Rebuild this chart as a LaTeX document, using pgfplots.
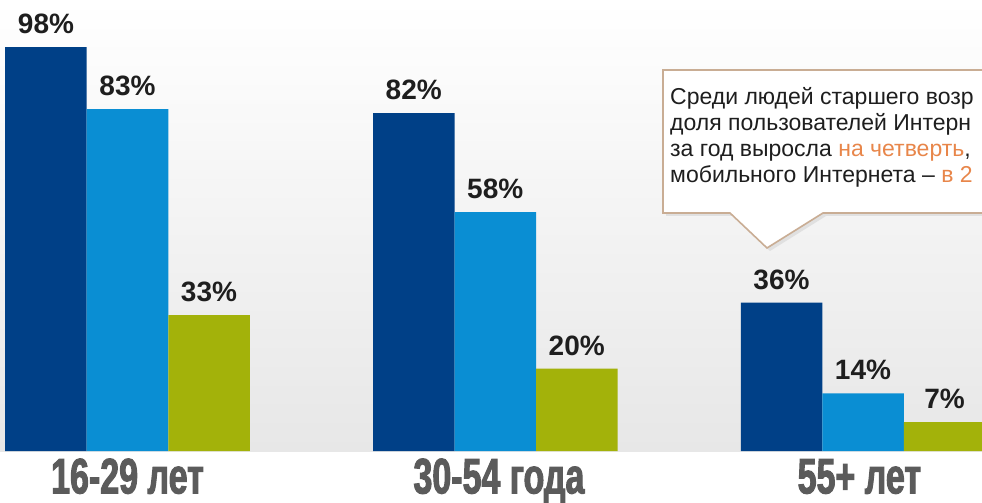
\documentclass[border=0pt]{standalone}
\usepackage{pgfplots}
\pgfplotsset{compat=1.18}
\usepackage{fontspec}
\setmainfont{Liberation Sans}
\newfontfamily\condfont[FakeStretch=0.68,BoldFeatures={FakeBold=2}]{Liberation Sans}

\definecolor{darkblue}{HTML}{004087}
\definecolor{lightblue}{HTML}{0A8ED3}
\definecolor{limegreen}{HTML}{A3B20A}
\definecolor{bggray}{HTML}{E7E7E7}
\definecolor{labelgray}{HTML}{1E1E1E}
\definecolor{catgray}{HTML}{5B5B5B}
\definecolor{boxline}{HTML}{C9AD94}
\definecolor{accent}{HTML}{E8864A}

\begin{document}
\begin{tikzpicture}
\useasboundingbox (0,0) rectangle (982pt,503pt);
\clip (0,0) rectangle (982pt,503pt);
\begin{axis}[
    scale only axis,
    width=982pt, height=503pt,
    xmin=-0.3467, xmax=2.3236,
    ymin=-12.62, ymax=109.47,
    hide axis,
    ybar=0pt,
    bar width=81.5pt,
    /pgf/number format/assume math mode=true,
    nodes near coords={\pgfmathprintnumber{\pgfplotspointmeta}\%},
    every node near coord/.append style={font=\fontsize{28}{30}\selectfont\bfseries,
        text=labelgray, inner sep=0pt, anchor=south, yshift=13pt},
]
% background gradient above the baseline
\fill[top color=white, bottom color=bggray, draw=none]
    (axis cs:-0.3467,0) rectangle (axis cs:2.3236,109.47);

\addplot[fill=darkblue, draw=none] coordinates {(0,98) (1,82) (2,36)};
\addplot[fill=lightblue, draw=none] coordinates {(0,83) (1,58) (2,14)};
\addplot[fill=limegreen, draw=none] coordinates {(0,33) (1,20) (2,7)};

\node[font=\condfont\bfseries\fontsize{50}{52}\selectfont, text=catgray, anchor=base]
    at (axis cs:0,-10.3) {16-29 лет};
\node[font=\condfont\bfseries\fontsize{50}{52}\selectfont, text=catgray, anchor=base]
    at (axis cs:1.01,-10.3) {30-54 года};
\node[font=\condfont\bfseries\fontsize{50}{52}\selectfont, text=catgray, anchor=base]
    at (axis cs:1.99,-10.3) {55+ лет};
\end{axis}

% callout (cut off at the right edge, as in the source image)
\fill[black!12] (666pt,430pt) -- (1003pt,430pt) -- (1003pt,287pt) -- (826pt,287pt)
    -- (770pt,252pt) -- (733pt,287pt) -- (666pt,287pt) -- cycle;
\filldraw[fill=white, draw=boxline, line width=1.6pt]
    (663pt,433pt) -- (1000pt,433pt) -- (1000pt,290pt) -- (823pt,290pt)
    -- (767pt,255pt) -- (730pt,290pt) -- (663pt,290pt) -- cycle;
\begin{scope}[every node/.style={anchor=base west, inner sep=0pt,
        font=\fontsize{23}{25}\selectfont, text=labelgray}]
\node at (670pt,398pt) {Среди людей старшего возр};
\node at (670pt,372pt) {доля пользователей Интерн};
\node at (670pt,346pt) {за год выросла \textcolor{accent}{на четверть},};
\node at (670pt,320pt) {мобильного Интернета – \textcolor{accent}{в 2}};
\end{scope}
\end{tikzpicture}
\end{document}
